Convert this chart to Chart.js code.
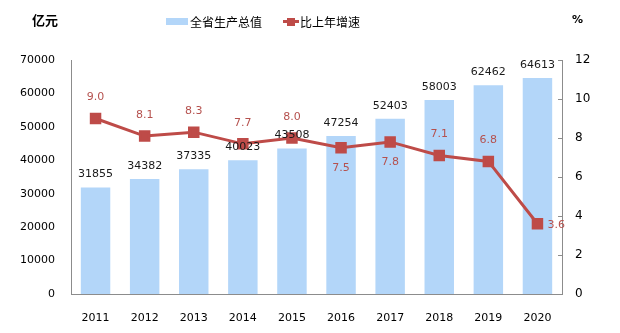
<!DOCTYPE html>
<html>
<head>
<meta charset="utf-8">
<script src="https://cdn.jsdelivr.net/npm/chart.js@4/dist/chart.umd.min.js"></script>
<style>
  html, body { margin: 0; padding: 0; background: #fff; }
  #wrap { width: 620px; height: 333px; }
</style>
</head>
<body>
<div id="wrap"><canvas id="gdpChart" width="620" height="333"></canvas></div>
<script>
// 年份、全省生产总值（亿元）、比上年增速（%）
const years = ['2011', '2012', '2013', '2014', '2015', '2016', '2017', '2018', '2019', '2020'];
const gdpValues = [31855, 34382, 37335, 40023, 43508, 47254, 52403, 58003, 62462, 64613];
const growthRates = [9.0, 8.1, 8.3, 7.7, 8.0, 7.5, 7.8, 7.1, 6.8, 3.6];
const leftTicks = [0, 10000, 20000, 30000, 40000, 50000, 60000, 70000];
const rightTicks = [0, 2, 4, 6, 8, 10, 12];

// where each growth label sits relative to its marker
const rateLabelPos = ['up', 'up', 'up', 'up', 'up', 'down', 'down', 'up', 'up', 'right'];

const barColor = '#B3D6F9';
const lineColor = '#BE4B48';
const axisColor = '#8C8C8C';
const numFont = '11px "DejaVu Sans", Verdana, sans-serif';
const cjkFont = '"Noto Sans CJK SC", sans-serif';

const labelPlugin = {
  id: 'valueLabels',
  afterDatasetsDraw(chart) {
    const ctx = chart.ctx;
    ctx.save();
    ctx.font = numFont;
    ctx.textBaseline = 'middle';

    // bar values above each bar
    const bars = chart.getDatasetMeta(0).data;
    ctx.fillStyle = '#1a1a1a';
    ctx.textAlign = 'center';
    bars.forEach((bar, i) => {
      ctx.fillText(String(gdpValues[i]), bar.x, bar.y - 13);
    });

    // growth rate labels around the markers
    const pts = chart.getDatasetMeta(1).data;
    ctx.fillStyle = '#B5514E';
    pts.forEach((pt, i) => {
      const txt = growthRates[i].toFixed(1);
      const pos = rateLabelPos[i];
      if (pos === 'right') {
        ctx.textAlign = 'left';
        ctx.fillText(txt, pt.x + 10, pt.y + 1);
      } else {
        ctx.textAlign = 'center';
        ctx.fillText(txt, pt.x, pos === 'up' ? pt.y - 21 : pt.y + 20);
      }
    });
    ctx.restore();
  },
  afterDraw(chart) {
    const ctx = chart.ctx;
    ctx.save();

    // inward tick marks on the right axis
    const y1 = chart.scales.y1;
    ctx.strokeStyle = axisColor;
    ctx.lineWidth = 1;
    rightTicks.forEach(v => {
      const y = Math.round(y1.getPixelForValue(v)) + 0.5;
      ctx.beginPath();
      ctx.moveTo(y1.left - 4, y);
      ctx.lineTo(y1.left, y);
      ctx.stroke();
    });

    // units
    ctx.fillStyle = '#000';
    ctx.textBaseline = 'middle';
    ctx.textAlign = 'left';
    ctx.font = 'bold 13px ' + cjkFont;
    ctx.fillText('亿元', 32, 20);
    ctx.font = 'bold 11px "DejaVu Sans", sans-serif';
    ctx.fillText('%', 572, 20);

    // legend
    ctx.font = '12px ' + cjkFont;
    ctx.fillStyle = barColor;
    ctx.fillRect(166, 18, 22, 7);
    ctx.fillStyle = '#000';
    ctx.fillText(chart.data.datasets[0].label, 190, 22);

    ctx.strokeStyle = lineColor;
    ctx.lineWidth = 3;
    ctx.beginPath();
    ctx.moveTo(283, 21.5);
    ctx.lineTo(299, 21.5);
    ctx.stroke();
    ctx.fillStyle = lineColor;
    ctx.fillRect(287, 18, 8, 8);
    ctx.fillStyle = '#000';
    ctx.fillText(chart.data.datasets[1].label, 300, 22);
    ctx.restore();
  }
};

const tickFont = { family: '"DejaVu Sans"', size: 11 };

new Chart(document.getElementById('gdpChart'), {
  data: {
    labels: years,
    datasets: [
      {
        type: 'bar',
        label: '全省生产总值',
        data: gdpValues,
        yAxisID: 'y',
        backgroundColor: barColor,
        barPercentage: 0.6,
        categoryPercentage: 1.0,
        order: 2
      },
      {
        type: 'line',
        label: '比上年增速',
        data: growthRates,
        yAxisID: 'y1',
        borderColor: lineColor,
        backgroundColor: lineColor,
        borderWidth: 3,
        pointStyle: 'rect',
        pointRadius: 6,
        pointBackgroundColor: lineColor,
        pointBorderColor: lineColor,
        tension: 0,
        order: 1
      }
    ]
  },
  options: {
    responsive: false,
    animation: false,
    devicePixelRatio: 1,
    layout: { padding: { top: 60, left: 0, right: 0, bottom: 0 } },
    plugins: {
      legend: { display: false },
      tooltip: { enabled: false }
    },
    scales: {
      x: {
        grid: { display: false, drawTicks: false },
        border: { display: true, color: axisColor },
        ticks: { color: '#000', font: tickFont, padding: 18 },
        afterFit(scale) { scale.height = 39; }
      },
      y: {
        position: 'left',
        min: 0,
        max: 70000,
        afterBuildTicks(scale) { scale.ticks = leftTicks.map(v => ({ value: v })); },
        grid: { display: false, drawTicks: false },
        border: { display: true, color: axisColor },
        ticks: { color: '#000', font: tickFont, padding: 16, callback: v => String(v) },
        afterFit(scale) { scale.width = 71; }
      },
      y1: {
        position: 'right',
        min: 0,
        max: 12,
        afterBuildTicks(scale) { scale.ticks = rightTicks.map(v => ({ value: v })); },
        grid: { display: false, drawTicks: false },
        border: { display: true, color: axisColor },
        ticks: { color: '#000', font: { family: '"DejaVu Sans"', size: 12 }, padding: 13, callback: v => String(v) },
        afterFit(scale) { scale.width = 58; }
      }
    }
  },
  plugins: [labelPlugin]
});
</script>
</body>
</html>
